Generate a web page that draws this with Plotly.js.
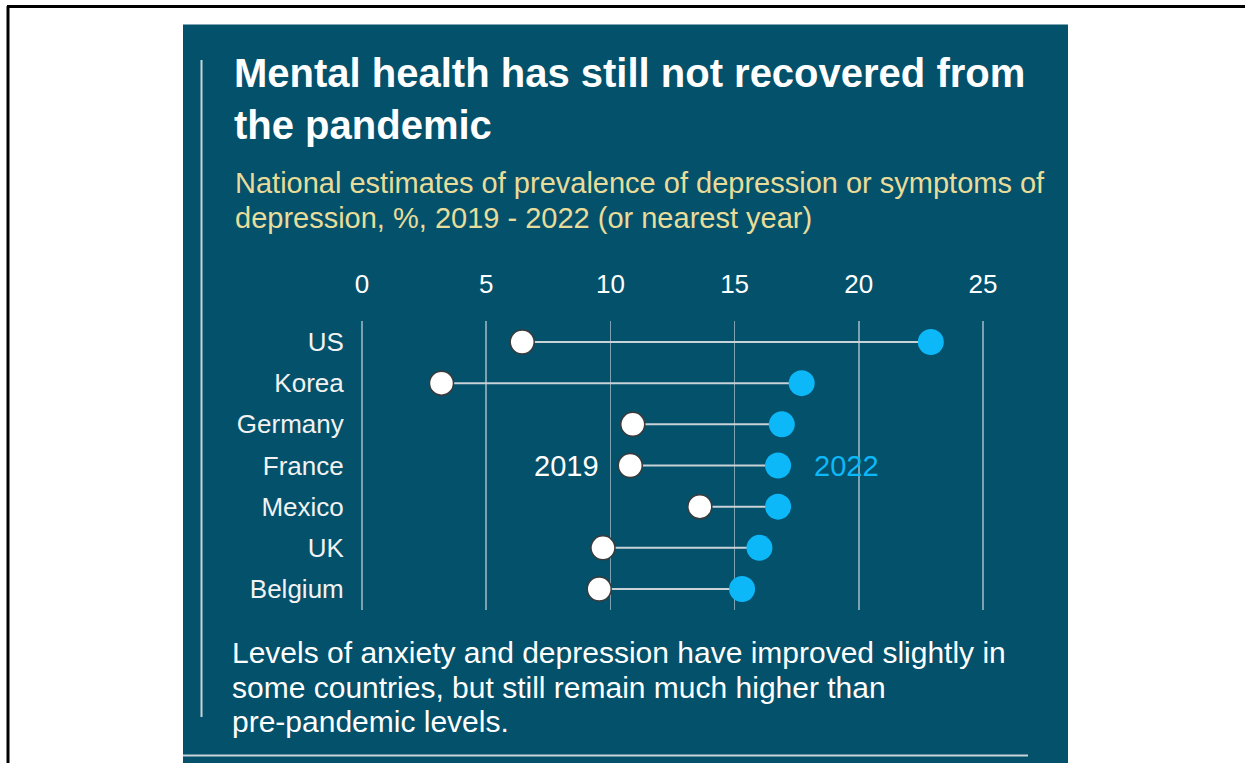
<!DOCTYPE html>
<html>
<head>
<meta charset="utf-8">
<script src="https://cdn.plot.ly/plotly-3.0.1.min.js"></script>
<style>html,body{margin:0;padding:0;background:#fff;}#chart{width:1245px;height:763px;}</style>
</head>
<body>
<div id="chart"></div>
<script>
// ---- data ----
const countries = ["US", "Korea", "Germany", "France", "Mexico", "UK", "Belgium"];
const values2019 = [6.45, 3.2, 10.9, 10.8, 13.6, 9.7, 9.55];
const values2022 = [22.9, 17.7, 16.9, 16.75, 16.75, 16.0, 15.3];
const xTicks = [0, 5, 10, 15, 20, 25];
const xTickLabels = ["0", "5", "10", "15", "20", "25"];
const subtitleLines = [
  "National estimates of prevalence of depression or symptoms of",
  "depression, %, 2019 - 2022 (or nearest year)"
];
const footerLines = [
  "Levels of anxiety and depression have improved slightly in",
  "some countries, but still remain much higher than",
  "pre-pandemic levels."
];

const W = 1245, H = 763;
const FONT = "Liberation Sans, Arial, sans-serif";
const PANEL = "#03516b";
const BLUE = "#0db8f9";

// connector segments built from the data arrays
const segX = [], segY = [];
countries.forEach((c, i) => {
  segX.push(values2019[i], values2022[i], null);
  segY.push(c, c, null);
});

const traces = [
  {
    type: "scatter", mode: "lines", x: segX, y: segY,
    line: {color: "#c9d2d6", width: 2}, hoverinfo: "skip", showlegend: false, cliponaxis: false
  },
  {
    type: "scatter", mode: "markers", name: "2022", x: values2022, y: countries,
    marker: {color: BLUE, size: 26, line: {width: 0}}, showlegend: false, cliponaxis: false
  },
  {
    type: "scatter", mode: "markers", name: "2019", x: values2019, y: countries,
    marker: {color: "#ffffff", size: 24, line: {color: "#3a3a3a", width: 1.5}}, showlegend: false, cliponaxis: false
  }
];

const px = v => v / W;
const py = v => 1 - v / H;
const PXU = (983 - 362) / 25; // pixels per unit (layout only)

const annotations = [];
const subY = [183, 218];
subtitleLines.forEach((t, i) => annotations.push({
  text: t, xref: "paper", yref: "paper", x: px(233), y: py(subY[i]),
  xanchor: "left", yanchor: "middle", align: "left", showarrow: false,
  font: {family: FONT, size: 29, color: "#e8dc9a"}
}));
const footY = [652, 687, 721];
footerLines.forEach((t, i) => annotations.push({
  text: t, xref: "paper", yref: "paper", x: px(230), y: py(footY[i]),
  xanchor: "left", yanchor: "middle", align: "left", showarrow: false,
  font: {family: FONT, size: 30, color: "#ffffff"}
}));
annotations.push(
  {
    text: "2019", xref: "x", yref: "y", x: values2019[3], y: countries[3],
    xanchor: "right", yanchor: "middle", xshift: -29, showarrow: false,
    font: {family: FONT, size: 29, color: "#ffffff"}
  },
  {
    text: "2022", xref: "x", yref: "y", x: values2022[3], y: countries[3],
    xanchor: "left", yanchor: "middle", xshift: 34, showarrow: false,
    font: {family: FONT, size: 29, color: BLUE}
  }
);

const layout = {
  width: W, height: H,
  margin: {l: 0, r: 0, t: 0, b: 0, pad: 0},
  paper_bgcolor: "#ffffff",
  plot_bgcolor: "rgba(0,0,0,0)",
  font: {family: FONT, color: "#ffffff"},
  title: {
    text: "<b>Mental health has still not recovered from<br>the pandemic</b>",
    font: {family: FONT, size: 40, color: "#ffffff"},
    xref: "paper", yref: "container",
    x: px(234), xanchor: "left",
    y: py(87), yanchor: "middle",
    automargin: false
  },
  xaxis: {
    domain: [px(362 - 0.05 * PXU), px(983 + 0.05 * PXU)],
    range: [-0.05, 25.05],
    side: "top",
    tickvals: xTicks, ticktext: xTickLabels,
    showgrid: true, gridcolor: "rgba(205,215,222,0.6)", gridwidth: 1.5,
    zeroline: false, showline: false, ticks: "",
    ticklabelstandoff: 22,
    tickfont: {family: FONT, size: 26, color: "#ffffff"},
    fixedrange: true
  },
  yaxis: {
    domain: [py(609.6), py(321.4)],
    type: "category",
    categoryorder: "array", categoryarray: countries,
    range: [6.5, -0.5],
    showgrid: false, zeroline: false, showline: false, ticks: "",
    ticklabelstandoff: 16,
    tickfont: {family: FONT, size: 26, color: "#f2f2f2"},
    fixedrange: true
  },
  shapes: [
    {type: "line", xref: "paper", yref: "paper", x0: px(7), x1: 1, y0: py(6.5), y1: py(6.5), line: {color: "#000000", width: 3}, layer: "below"},
    {type: "line", xref: "paper", yref: "paper", x0: px(8), x1: px(8), y0: py(6), y1: 0, line: {color: "#000000", width: 3}, layer: "below"},
    {type: "rect", xref: "paper", yref: "paper", x0: px(183), x1: px(1068), y0: 0, y1: py(24.5), fillcolor: PANEL, line: {width: 0}, layer: "below"},
    {type: "line", xref: "paper", yref: "paper", x0: px(201.5), x1: px(201.5), y0: py(60), y1: py(717), line: {color: "#c9d4da", width: 2}, layer: "below"},
    {type: "line", xref: "paper", yref: "paper", x0: px(183), x1: px(1028), y0: py(755.5), y1: py(755.5), line: {color: "#c9d4da", width: 2}, layer: "below"}
  ],
  annotations: annotations
};

Plotly.newPlot("chart", traces, layout, {displayModeBar: false, staticPlot: true});
</script>
</body>
</html>
